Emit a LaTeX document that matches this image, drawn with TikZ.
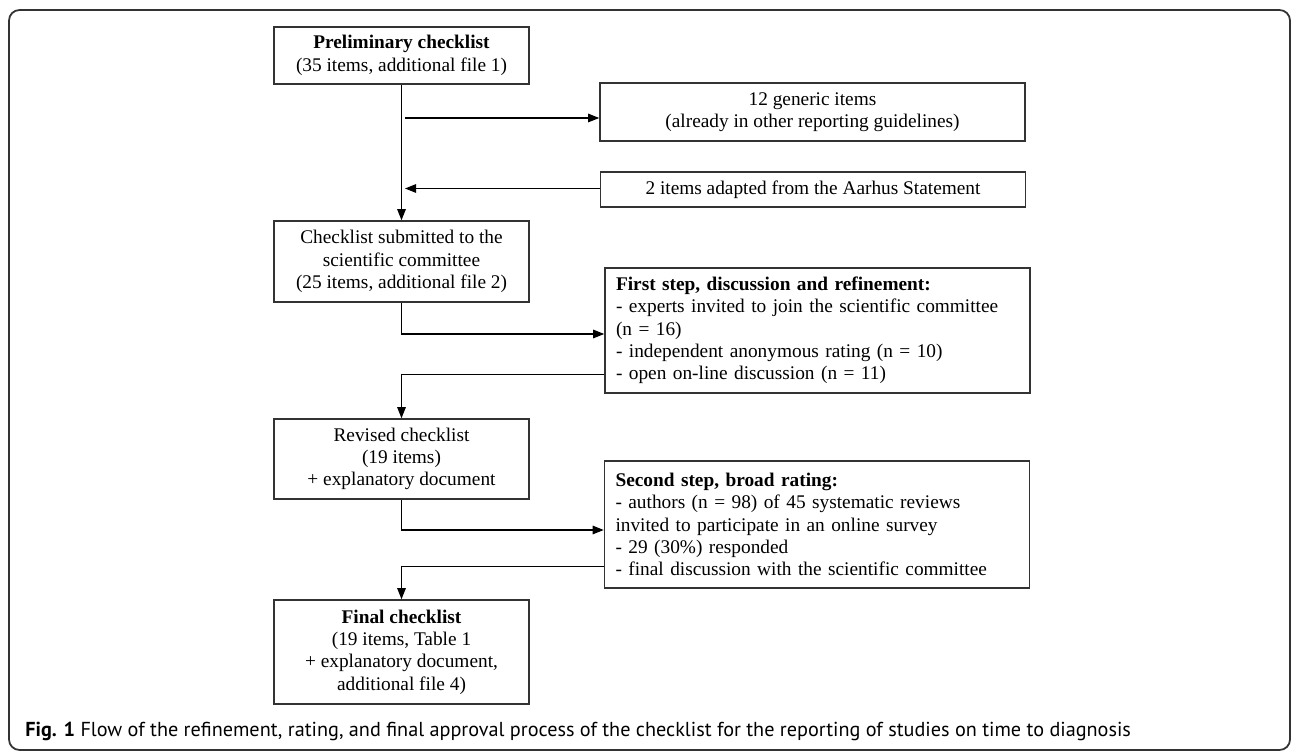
\documentclass[tikz,border=0pt]{standalone}
\usepackage{fontspec}
\setmainfont{Liberation Serif}
\newfontfamily\capfont{PT Sans}
\usetikzlibrary{positioning,arrows.meta}

\begin{document}
\begin{tikzpicture}[
  font=\fontsize{11}{12.7}\selectfont,
  every node/.style={align=center, inner sep=3pt},
  box/.style    ={draw=black!80, line width=0.9pt, minimum width=5.1cm},
  sidebox/.style={box, minimum width=8.5cm},
  stepbox/.style={box, align=left, text width=8.06cm, inner xsep=0.22cm},
  arr/.style    ={-{Triangle[length=2.2mm,width=1.7mm]}, line width=0.7pt},
  frame/.style  ={draw=black!80, line width=1pt, rounded corners=6pt},
  caption/.style={font=\capfont\fontsize{11.5}{13}\selectfont, anchor=west, inner sep=0pt}
]
\useasboundingbox (0,0) rectangle (25.92,-15.08);
\draw[frame] (0.18,-0.2) rectangle (25.8,-15.0);

% --- Main column (left) ---
\node[box, minimum height=1.14cm] (prelim) at (8.03,-1.11)
  {\textbf{Preliminary checklist}\\(35 items, additional file 1)};
\node[box, minimum height=1.62cm] (submit) at (8.03,-5.23)
  {Checklist submitted to the\\scientific committee\\(25 items, additional file 2)};
\node[box, minimum height=1.60cm] (revised) at (8.03,-9.18)
  {Revised checklist\\(19 items)\\+ explanatory document};
\node[box, minimum height=2.08cm] (final) at (8.03,-13.04)
  {\textbf{Final checklist}\\(19 items, Table 1\\+ explanatory document,\\additional file 4)};

% --- Side boxes (right) ---
\node[sidebox, minimum height=1.16cm] (generic) at (16.25,-2.24)
  {12 generic items\\(already in other reporting guidelines)};
\node[sidebox, minimum height=0.70cm] (aarhus) at (16.26,-3.79)
  {2 items adapted from the Aarhus Statement};
\node[stepbox, minimum height=2.50cm] (first) at (16.35,-6.61)
  {\textbf{First step, discussion and refinement:}\\
   - experts invited to join the scientific committee\\
   (n = 16)\\
   - independent anonymous rating (n = 10)\\
   - open on-line discussion (n = 11)};
\node[stepbox, minimum height=2.54cm] (second) at (16.34,-10.49)
  {\textbf{Second step, broad rating:}\\
   - authors (n = 98) of 45 systematic reviews\\
   invited to participate in an online survey\\
   - 29 (30\%) responded\\
   - final discussion with the scientific committee};

% --- Caption ---
\node[caption] (cap) at (0.5,-14.62)
  {\textbf{Fig. 1} Flow of the refinement, rating, and final approval process of the checklist for the reporting of studies on time to diagnosis};

% --- Arrows ---
\coordinate (out1) at (8.1,-2.36);
\coordinate (in2)  at (8.1,-3.77);
\draw[arr] (prelim.south) -- (submit.north);
\draw[arr] (out1) -- (out1 -| generic.west);
\draw[arr] (aarhus.west |- in2) -- (in2);
\draw[arr] (submit.south) |- ([yshift=-0.07cm]first.west);
\draw[arr] ([yshift=0.38cm]first.south west) -| (revised.north);
\draw[arr] (revised.south) |- ([yshift=-0.11cm]second.west);
\draw[arr] ([yshift=0.44cm]second.south west) -| (final.north);

\end{tikzpicture}
\end{document}
